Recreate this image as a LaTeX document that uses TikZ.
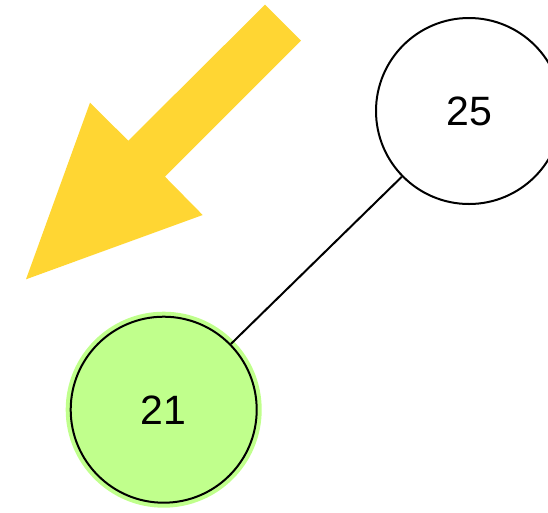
\documentclass[tikz,border=0pt]{standalone}
\usepackage{fontspec}
\setmainfont{Liberation Sans}
\definecolor{arrowyellow}{RGB}{255,214,51}
\definecolor{leafgreen}{RGB}{192,255,140}
\begin{document}
\begin{tikzpicture}[x=1pt,y=-1pt,
  treenode/.style={circle, draw=black, line width=2pt, minimum size=186pt,
    inner sep=0pt, font=\fontsize{41}{41}\selectfont},
  highlighted/.style={fill=leafgreen,
    preaction={draw=leafgreen, line width=10pt}},
  edge/.style={draw=black, line width=2pt}]
  \useasboundingbox (0,0) rectangle (548,512);
  \clip (0,0) rectangle (548,512);
  % pointer arrow
  \fill[arrowyellow] (265,4.7) -- (301,40.7) -- (165,176.7) -- (202.7,215)
    -- (26,279.3) -- (90,102.7) -- (128.3,140.7) -- cycle;
  % tree nodes
  \node[treenode] (n25) at (469,111) {25};
  \node[treenode, highlighted] (n21) at (163.7,409.7) {21};
  \draw[edge] (n25) -- (n21);
\end{tikzpicture}
\end{document}
